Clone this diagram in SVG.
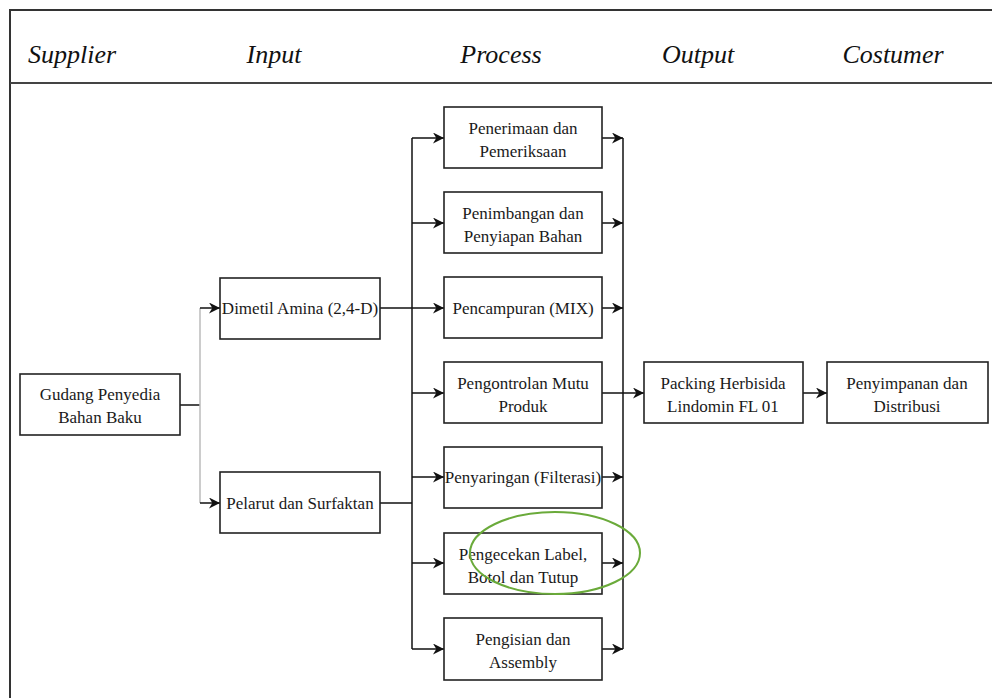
<svg xmlns="http://www.w3.org/2000/svg" width="992" height="698" viewBox="0 0 992 698">
<defs>
<style>
.box{fill:#fff;stroke:#222;stroke-width:1.6}
.t{font-family:"Liberation Serif","Times New Roman",serif;font-size:17px;fill:#1a1a1a;text-anchor:middle}
.h{font-family:"Liberation Serif","Times New Roman",serif;font-size:26px;font-style:italic;fill:#111;text-anchor:middle}
.ln{fill:none;stroke:#111;stroke-width:1.5}
.lg{fill:none;stroke:#bbb;stroke-width:1.5}
</style>
<marker id="ar" viewBox="0 0 10 10" refX="10" refY="5" markerWidth="11" markerHeight="11" markerUnits="userSpaceOnUse" orient="auto">
<path d="M0,0 L10,5 L0,10 L3,5 Z" fill="#111"/>
</marker>
</defs>
<rect width="992" height="698" fill="#fff"/>
<g id="frame">
<path d="M10,698 V10 H992" fill="none" stroke="#333" stroke-width="2"/>
<line x1="10" y1="83" x2="992" y2="83" stroke="#444" stroke-width="2"/>
</g>
<g id="headers">
<text class="h" x="72" y="63">Supplier</text>
<text class="h" x="274" y="63">Input</text>
<text class="h" x="501" y="63">Process</text>
<text class="h" x="698" y="63">Output</text>
<text class="h" x="893" y="63">Costumer</text>
</g>
<g id="connectors">
<path class="ln" d="M180,405 H200"/>
<path class="lg" d="M200,308 V503"/>
<path class="ln" d="M200,308 H220" marker-end="url(#ar)"/>
<path class="ln" d="M200,503 H220" marker-end="url(#ar)"/>
<path class="ln" d="M380,308 H412"/>
<path class="ln" d="M380,503 H412"/>
<path class="ln" d="M412,138 V649"/>
<path class="ln" d="M412,138 H444" marker-end="url(#ar)"/>
<path class="ln" d="M412,223 H444" marker-end="url(#ar)"/>
<path class="ln" d="M412,308 H444" marker-end="url(#ar)"/>
<path class="ln" d="M412,393 H444" marker-end="url(#ar)"/>
<path class="ln" d="M412,477 H444" marker-end="url(#ar)"/>
<path class="ln" d="M412,563 H444" marker-end="url(#ar)"/>
<path class="ln" d="M412,649 H444" marker-end="url(#ar)"/>
<path class="ln" d="M623,138 V649"/>
<path class="ln" d="M602,138 H623" marker-end="url(#ar)"/>
<path class="ln" d="M602,223 H623" marker-end="url(#ar)"/>
<path class="ln" d="M602,308 H623" marker-end="url(#ar)"/>
<path class="ln" d="M602,477 H623" marker-end="url(#ar)"/>
<path class="ln" d="M602,563 H623" marker-end="url(#ar)"/>
<path class="ln" d="M602,649 H623" marker-end="url(#ar)"/>
<path class="ln" d="M602,393 H644" marker-end="url(#ar)"/>
<path class="ln" d="M803,393 H827" marker-end="url(#ar)"/>
</g>
<g id="gudang"><rect class="box" x="20" y="374" width="160" height="61"/><text class="t" x="100" y="400">Gudang Penyedia</text><text class="t" x="100" y="423">Bahan Baku</text></g>
<g id="dimetil"><rect class="box" x="220" y="278" width="160" height="61"/><text class="t" x="300" y="314">Dimetil Amina (2,4-D)</text></g>
<g id="pelarut"><rect class="box" x="220" y="472" width="160" height="61"/><text class="t" x="300" y="509">Pelarut dan Surfaktan</text></g>
<g id="p1"><rect class="box" x="444" y="107" width="158" height="61"/><text class="t" x="523" y="134">Penerimaan dan</text><text class="t" x="523" y="157">Pemeriksaan</text></g>
<g id="p2"><rect class="box" x="444" y="192" width="158" height="61"/><text class="t" x="523" y="219">Penimbangan dan</text><text class="t" x="523" y="242">Penyiapan Bahan</text></g>
<g id="p3"><rect class="box" x="444" y="277" width="158" height="61"/><text class="t" x="523" y="314">Pencampuran (MIX)</text></g>
<g id="p4"><rect class="box" x="444" y="362" width="158" height="61"/><text class="t" x="523" y="389">Pengontrolan Mutu</text><text class="t" x="523" y="412">Produk</text></g>
<g id="p5"><rect class="box" x="444" y="447" width="158" height="61"/><text class="t" x="523" y="483">Penyaringan (Filterasi)</text></g>
<g id="p6"><rect class="box" x="444" y="533" width="158" height="61"/><text class="t" x="523" y="560">Pengecekan Label,</text><text class="t" x="523" y="583">Botol dan Tutup</text></g>
<g id="p7"><rect class="box" x="444" y="618" width="158" height="62"/><text class="t" x="523" y="645">Pengisian dan</text><text class="t" x="523" y="668">Assembly</text></g>
<g id="packing"><rect class="box" x="644" y="362" width="159" height="61"/><text class="t" x="723" y="389">Packing Herbisida</text><text class="t" x="723" y="412">Lindomin FL 01</text></g>
<g id="distribusi"><rect class="box" x="827" y="362" width="161" height="61"/><text class="t" x="907" y="389">Penyimpanan dan</text><text class="t" x="907" y="412">Distribusi</text></g>
<ellipse id="highlight" cx="555" cy="553" rx="85" ry="41" fill="none" stroke="#6aaa3a" stroke-width="2"/>
</svg>
